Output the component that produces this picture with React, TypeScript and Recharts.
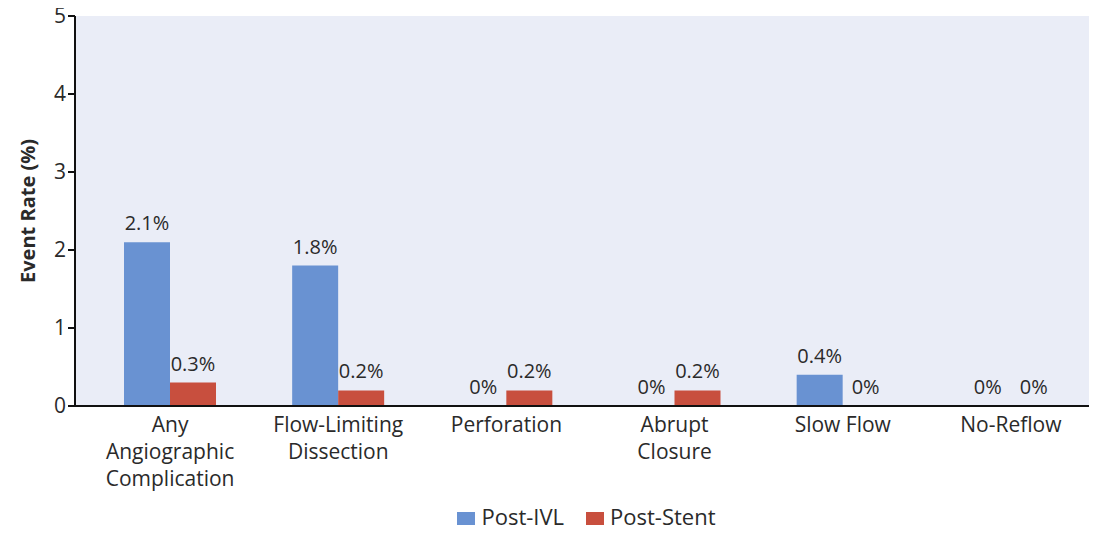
import React from "react";
import { BarChart, Bar, XAxis, YAxis, CartesianGrid, Legend, LabelList, Label } from "recharts";

const categories = [
  "Any\nAngiographic\nComplication",
  "Flow-Limiting\nDissection",
  "Perforation",
  "Abrupt\nClosure",
  "Slow Flow",
  "No-Reflow",
];
const postIVL = [2.1, 1.8, 0, 0, 0.4, 0];
const postStent = [0.3, 0.2, 0.2, 0.2, 0, 0];
const yTicks = [0, 1, 2, 3, 4, 5];

const data = categories.map((c, i) => ({ name: c, ivl: postIVL[i], stent: postStent[i] }));

const FONT = "'Open Sans', sans-serif";
const BLUE = "#6992d2";
const RED = "#c84f3e";
const TEXT = "#2a2a2a";

const XTick = (props: any) => {
  const { x, y, payload } = props;
  const lines = String(payload.value).split("\n");
  return (
    <text x={x} y={y} textAnchor="middle" fill={TEXT} fontSize={21} fontFamily={FONT}>
      {lines.map((l, i) => (
        <tspan key={i} x={x} dy={i === 0 ? 18 : 27}>
          {l}
        </tspan>
      ))}
    </text>
  );
};

const ValueLabel = (props: any) => {
  const { x, y, width, value } = props;
  if (x == null || y == null) return null;
  return (
    <text
      x={Number(x) + Number(width) / 2}
      y={Number(y) - 12}
      textAnchor="middle"
      fill={TEXT}
      fontSize={20}
      fontFamily={FONT}
    >
      {`${value}%`}
    </text>
  );
};

const minSize = (v: any) => (v === 0 ? 0.01 : 0);

export default function App() {
  return (
    <div style={{ width: 1097, height: 533, margin: -8, fontFamily: FONT }}>
      <BarChart
        width={1097}
        height={533}
        data={data}
        margin={{ top: 16, right: 2, bottom: 2, left: 8 }}
        barGap={0}
      >
        <CartesianGrid horizontal={false} vertical={false} fill="#eaedf7" />
        <XAxis
          dataKey="name"
          tick={<XTick />}
          tickLine={false}
          axisLine={{ stroke: "#111", strokeWidth: 2 }}
          height={95}
          interval={0}
          padding={{ left: 11, right: 0 }}
        />
        <YAxis
          domain={[0, 5]}
          ticks={yTicks}
          width={67}
          tick={{ fill: TEXT, fontSize: 21, fontFamily: FONT }}
          tickLine={{ stroke: "#111", strokeWidth: 2 }}
          tickSize={7}
          axisLine={{ stroke: "#111", strokeWidth: 2 }}
        >
          <Label
            value="Event Rate (%)"
            angle={-90}
            position="insideLeft"
            offset={20}
            style={{ textAnchor: "middle", fontWeight: 700, fontSize: 20, fill: TEXT, fontFamily: FONT }}
          />
        </YAxis>
        <Legend
          verticalAlign="bottom"
          align="center"
          iconType="square"
          iconSize={18}
          formatter={(v: any) => <span style={{ color: TEXT, fontSize: 22, fontFamily: FONT, marginRight: 12, marginLeft: 2 }}>{v}</span>}
          wrapperStyle={{ paddingTop: 0, paddingLeft: 46 }}
        />
        <Bar dataKey="ivl" name="Post-IVL" fill={BLUE} barSize={46} minPointSize={minSize} isAnimationActive={false}>
          <LabelList dataKey="ivl" content={<ValueLabel />} />
        </Bar>
        <Bar dataKey="stent" name="Post-Stent" fill={RED} barSize={46} minPointSize={minSize} isAnimationActive={false}>
          <LabelList dataKey="stent" content={<ValueLabel />} />
        </Bar>
      </BarChart>
    </div>
  );
}
